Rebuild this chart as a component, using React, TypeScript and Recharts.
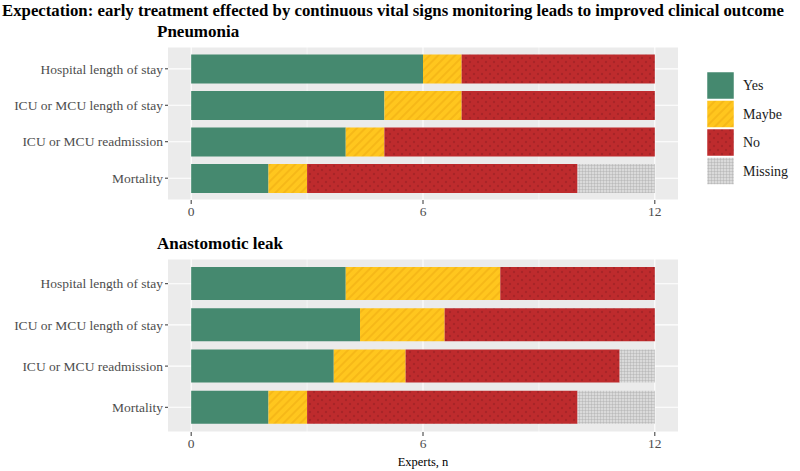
import { BarChart, Bar, XAxis, YAxis, CartesianGrid } from 'recharts'

const categories = ['Hospital length of stay', 'ICU or MCU length of stay', 'ICU or MCU readmission', 'Mortality']

const pneumoniaYes = [6, 5, 4, 2]
const pneumoniaMaybe = [1, 2, 1, 1]
const pneumoniaNo = [5, 5, 7, 7]
const pneumoniaMissing = [0, 0, 0, 2]

const leakYes = [4, 4.37, 3.69, 2]
const leakMaybe = [4, 2.19, 1.86, 1]
const leakNo = [4, 5.44, 5.54, 7]
const leakMissing = [0, 0, 0.91, 2]

const xTicks = [0, 6, 12]
const minorTicks = [3, 9]

const responses = [
  { key: 'yes', name: 'Yes', fill: '#45896F' },
  { key: 'maybe', name: 'Maybe', fill: 'url(#pat-maybe)' },
  { key: 'no', name: 'No', fill: 'url(#pat-no)' },
  { key: 'missing', name: 'Missing', fill: 'url(#pat-missing)' },
]

const serif = '"Liberation Serif", "Times New Roman", serif'
const tickStyle = { fontSize: 13.5, fill: '#4D4D4D', fontFamily: serif }

function rows(yes: number[], maybe: number[], no: number[], missing: number[]) {
  return categories.map((category, i) => ({
    category,
    yes: yes[i],
    maybe: maybe[i],
    no: no[i],
    missing: missing[i],
  }))
}

const pneumoniaData = rows(pneumoniaYes, pneumoniaMaybe, pneumoniaNo, pneumoniaMissing)
const leakData = rows(leakYes, leakMaybe, leakNo, leakMissing)

// plain text tick so long labels don't wrap
function CategoryTick({ x, y, payload }: any) {
  return (
    <text x={x} y={y} dy="0.35em" textAnchor="end" {...tickStyle}>
      {payload.value}
    </text>
  )
}

type PanelProps = {
  data: ReturnType<typeof rows>
  height: number
  top: number
  axisHeight: number
  pad: number
  barSize: number
  xLabel?: string
}

function Panel({ data, height, top, axisHeight, pad, barSize, xLabel }: PanelProps) {
  return (
    <BarChart
      width={800}
      height={height}
      data={data}
      layout="vertical"
      margin={{ top, right: 122, bottom: 0, left: 0 }}
    >
      <CartesianGrid fill="#EBEBEB" stroke="#FFFFFF" strokeWidth={0.55} horizontal={false} verticalValues={minorTicks} />
      <CartesianGrid stroke="#FFFFFF" strokeWidth={1.1} verticalValues={xTicks} />
      <XAxis
        type="number"
        domain={[-0.6, 12.6]}
        ticks={xTicks}
        allowDataOverflow
        axisLine={false}
        tickLine={{ stroke: '#333333' }}
        tickSize={4}
        tickMargin={2}
        tick={tickStyle}
        height={axisHeight}
        label={xLabel ? { value: xLabel, position: 'insideBottom', offset: 5, style: { fontSize: 12.5, fill: '#000', fontFamily: serif } } : undefined}
      />
      <YAxis
        type="category"
        dataKey="category"
        width={168}
        axisLine={false}
        tickLine={{ stroke: '#333333' }}
        tickSize={3}
        tickMargin={2}
        tick={<CategoryTick />}
        padding={{ top: pad, bottom: pad }}
      />
      {responses.map(r => (
        <Bar key={r.key} dataKey={r.key} name={r.name} stackId="a" fill={r.fill} barSize={barSize} isAnimationActive={false} />
      ))}
    </BarChart>
  )
}

export default function App() {
  return (
    <div style={{ position: 'absolute', left: 0, top: 0, width: 800, height: 471, background: '#fff', fontFamily: serif }}>
      <div style={{ position: 'absolute', left: 0, top: 0 }}>
        <Panel data={pneumoniaData} height={230} top={47} axisHeight={30} pad={3.6} barSize={29} />
      </div>
      <div style={{ position: 'absolute', left: 0, top: 230 }}>
        <Panel data={leakData} height={241} top={29} axisHeight={39} pad={4.1} barSize={33} xLabel="Experts, n" />
      </div>
      <svg width={800} height={471} style={{ position: 'absolute', left: 0, top: 0, pointerEvents: 'none' }}>
        <defs>
          <pattern id="pat-maybe" patternUnits="userSpaceOnUse" width={6} height={6} patternTransform="rotate(45)">
            <rect width={6} height={6} fill="#FFC61E" />
            <rect width={2} height={6} fill="#F6B818" />
          </pattern>
          <pattern id="pat-no" patternUnits="userSpaceOnUse" width={8} height={8}>
            <rect width={8} height={8} fill="#BE2B2D" />
            <circle cx={2} cy={2} r={1.2} fill="#A82428" />
            <circle cx={6} cy={6} r={1.2} fill="#A82428" />
          </pattern>
          <pattern id="pat-missing" patternUnits="userSpaceOnUse" width={3} height={3}>
            <rect width={3} height={3} fill="#DADADA" />
            <path d="M0 0.25H3M0.25 0V3" stroke="#A6A6A6" strokeWidth={0.5} />
          </pattern>
        </defs>
        <text x={2} y={16} fontSize={16.5} fontWeight="bold" fontFamily={serif} fill="#000" textLength={782} lengthAdjust="spacingAndGlyphs">
          Expectation: early treatment effected by continuous vital signs monitoring leads to improved clinical outcome
        </text>
        <text x={157} y={37} fontSize={17} fontWeight="bold" fontFamily={serif} fill="#000">Pneumonia</text>
        <text x={157} y={249} fontSize={17} fontWeight="bold" fontFamily={serif} fill="#000">Anastomotic leak</text>
        {responses.map((r, i) => (
          <g key={r.key}>
            <rect x={707} y={72 + i * 28.5} width={27} height={27} fill={r.fill} stroke="#FFFFFF" strokeWidth={0.5} />
            <text x={743} y={85.5 + i * 28.5} dy="0.35em" fontSize={14} fontFamily={serif} fill="#1A1A1A">{r.name}</text>
          </g>
        ))}
      </svg>
    </div>
  )
}
